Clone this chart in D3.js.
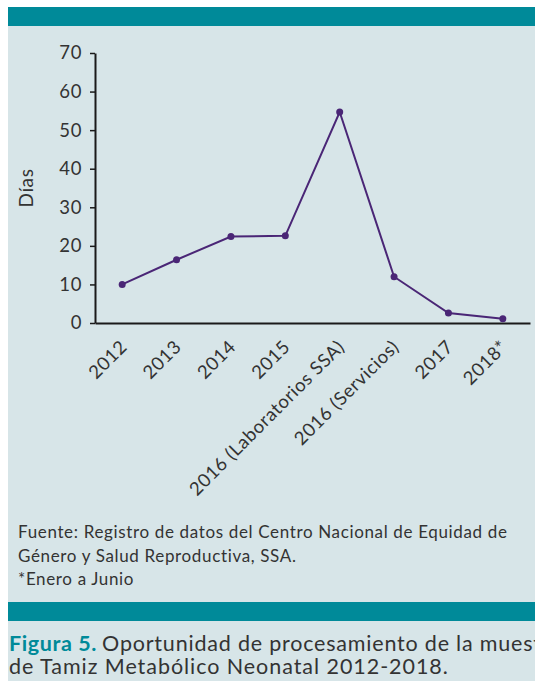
<!DOCTYPE html>
<html>
<head>
<meta charset="utf-8">
<script src="https://cdn.jsdelivr.net/npm/d3@7"></script>
<style>
  html, body { margin: 0; padding: 0; background: #fff; overflow: hidden; }
  svg { display: block; font-family: Lato, "Open Sans", sans-serif; }
</style>
</head>
<body>
<svg id="chart" width="535" height="681"></svg>
<script>
// data
const categories = ["2012", "2013", "2014", "2015", "2016 (Laboratorios SSA)", "2016 (Servicios)", "2017", "2018*"];
const dias = [10, 16.4, 22.4, 22.6, 54.7, 12, 2.6, 1.1];
const yTicks = [0, 10, 20, 30, 40, 50, 60, 70];
const notas = [
  "Fuente: Registro de datos del Centro Nacional de Equidad de",
  "Género y Salud Reproductiva, SSA.",
  "*Enero a Junio"
];

const width = 535, height = 681;
const teal = "#008a99";
const panel = "#d7e5e8";
const purple = "#4a2676";
const ink = "#333";

const svg = d3.select("#chart");

// background panel and teal bands
svg.append("rect").attr("x", 8).attr("y", 7).attr("width", width - 8).attr("height", height - 7).attr("fill", panel);
svg.append("rect").attr("x", 8).attr("y", 7).attr("width", width - 8).attr("height", 19).attr("fill", teal);
svg.append("rect").attr("x", 8).attr("y", 602).attr("width", width - 8).attr("height", 19).attr("fill", teal);

const x = d3.scaleBand().domain(categories).range([95, 530]);
const y = d3.scaleLinear().domain([0, 70]).range([323, 53]);

// y axis
const gy = svg.append("g")
  .attr("transform", "translate(95,0)")
  .call(d3.axisLeft(y).tickValues(yTicks).tickSize(5).tickSizeOuter(0).tickPadding(8));
gy.select(".domain").attr("stroke", "#1a1a1a").attr("stroke-width", 2);
gy.selectAll(".tick line").attr("stroke", "#1a1a1a").attr("stroke-width", 1.5);
gy.selectAll(".tick text").attr("fill", ink)
  .style("font-size", "18.5px").style("font-family", "Lato").style("letter-spacing", "0.6px");

// x axis
const gx = svg.append("g")
  .attr("transform", "translate(0,323)")
  .call(d3.axisBottom(x).tickSize(0).tickSizeOuter(0).tickFormat(""));
gx.select(".domain").attr("stroke", "#1a1a1a").attr("stroke-width", 2);

svg.append("g").selectAll("text")
  .data(categories)
  .join("text")
  .attr("transform", d => `translate(${x(d) + x.bandwidth() / 2 + 6},348) rotate(-45)`)
  .attr("text-anchor", "end")
  .attr("fill", ink)
  .style("font-size", "18.5px")
  .style("letter-spacing", "0.6px")
  .text(d => d);

// y label
svg.append("text")
  .attr("transform", "translate(33,188) rotate(-90)")
  .attr("text-anchor", "middle")
  .attr("fill", ink)
  .style("font-size", "19px")
  .style("letter-spacing", "0.6px")
  .text("Días");

// line + points
const line = d3.line()
  .x((d, i) => x(categories[i]) + x.bandwidth() / 2)
  .y(d => y(d));

svg.append("path")
  .datum(dias)
  .attr("d", line)
  .attr("fill", "none")
  .attr("stroke", purple)
  .attr("stroke-width", 2);

svg.append("g").selectAll("circle")
  .data(dias)
  .join("circle")
  .attr("cx", (d, i) => x(categories[i]) + x.bandwidth() / 2)
  .attr("cy", d => y(d))
  .attr("r", 3.5)
  .attr("fill", purple);

// footnotes
svg.append("g").selectAll("text")
  .data(notas)
  .join("text")
  .attr("x", 18)
  .attr("y", (d, i) => 538 + i * 23.5)
  .attr("fill", ink)
  .style("font-size", "17px")
  .style("letter-spacing", "0.65px")
  .text(d => d);

// caption
const fig = svg.append("text").attr("x", 9).attr("y", 651)
  .attr("fill", teal).attr("font-weight", "bold")
  .style("font-size", "21.5px").style("letter-spacing", "0.6px")
  .text("Figura 5.");
const figW = fig.node().getComputedTextLength();
svg.append("text").attr("x", 9 + figW + 5).attr("y", 651)
  .attr("fill", ink)
  .style("font-size", "21.5px").style("letter-spacing", "0.8px")
  .text("Oportunidad de procesamiento de la muestra");
svg.append("text").attr("x", 9).attr("y", 674).attr("fill", ink)
  .style("font-size", "21.5px").style("letter-spacing", "0.95px")
  .text("de Tamiz Metabólico Neonatal 2012-2018.");
</script>
</body>
</html>
